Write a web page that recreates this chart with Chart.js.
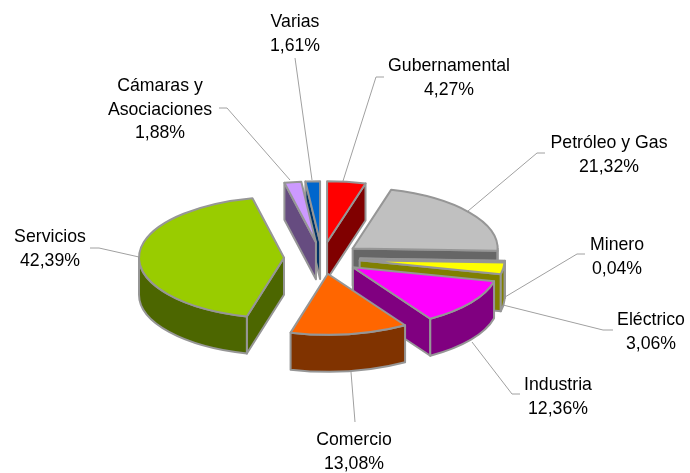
<!DOCTYPE html>
<html>
<head>
<meta charset="utf-8">
<style>
  html, body { margin: 0; padding: 0; background: #fff; }
  canvas { display: block; }
</style>
<script src="https://cdn.jsdelivr.net/npm/chart.js@4/dist/chart.umd.min.js"></script>
</head>
<body>
<canvas id="myChart" width="690" height="473"></canvas>
<script>
const categories = ["Gubernamental", "Petróleo y Gas", "Minero", "Eléctrico", "Industria", "Comercio", "Servicios", "Cámaras y Asociaciones", "Varias"];
const shares = [4.27, 21.32, 0.04, 3.06, 12.36, 13.08, 42.39, 1.88, 1.61];
const percentLabels = ["4,27%", "21,32%", "0,04%", "3,06%", "12,36%", "13,08%", "42,39%", "1,88%", "1,61%"];
const topColors = ["#ff0000", "#c0c0c0", "#ffff00", "#ffff00", "#ff00ff", "#ff6600", "#99cc00", "#cc99ff", "#0066cc"];
const sideColors = ["#800000", "#666666", "#808000", "#808000", "#800080", "#803300", "#4c6600", "#664c80", "#003366"];

// where the callouts sit: name lines, centre x, first baseline y, leader polyline
const callouts = [
  { name: ["Gubernamental"], x: 449, y: 71, leader: [[343, 181], [376, 77], [384, 77]] },
  { name: ["Petróleo y Gas"], x: 609, y: 148, leader: [[468, 211], [537, 153], [545, 153]] },
  { name: ["Minero"], x: 617, y: 250, leader: [[505, 297], [577, 254], [585, 254]] },
  { name: ["Eléctrico"], x: 651, y: 325, leader: [[503, 305], [603, 330], [613, 330]] },
  { name: ["Industria"], x: 558, y: 390, leader: [[472, 342], [512, 394], [520, 394]] },
  { name: ["Comercio"], x: 354, y: 445, leader: [[351, 372], [355, 422]] },
  { name: ["Servicios"], x: 50, y: 242, leader: [[139, 257], [99, 248], [90, 248]] },
  { name: ["Cámaras y", "Asociaciones"], x: 160, y: 91, leader: [[290, 180], [227, 108], [219, 108]] },
  { name: ["Varias"], x: 295, y: 27, leader: [[312, 180], [295, 58]] },
];

const squash = 0.42;    // vertical tilt of the pie
const depth = 37;       // wall height
const explode = 38;     // distance each slice is pulled out
const outline = "#969696";

const pie3d = {
  id: "pie3d",
  beforeDatasetsDraw(chart) {
    const ctx = chart.ctx;
    const arcs = chart.getDatasetMeta(0).data;
    const mid = (a) => (a.startAngle + a.endAngle) / 2;
    const order = arcs.map((a, i) => i).sort((p, q) => Math.sin(mid(arcs[p])) - Math.sin(mid(arcs[q])));

    // leaders go under the slices
    ctx.save();
    ctx.strokeStyle = "#a0a0a0";
    ctx.lineWidth = 1;
    callouts.forEach((c) => {
      ctx.beginPath();
      c.leader.forEach(([x, y], k) => (k ? ctx.lineTo(x, y) : ctx.moveTo(x, y)));
      ctx.stroke();
    });
    ctx.restore();

    order.forEach((i) => {
      const arc = arcs[i];
      const r = arc.outerRadius;
      const ax = arc.x + Math.cos(mid(arc)) * explode;
      const ay = arc.y + Math.sin(mid(arc)) * explode * squash;
      const rim = (t) => [ax + Math.cos(t) * r, ay + Math.sin(t) * r * squash];

      ctx.save();
      ctx.lineWidth = 2;
      ctx.lineJoin = "round";
      ctx.strokeStyle = outline;
      ctx.fillStyle = sideColors[i];

      // cut faces, only the ones turned towards the viewer
      const faces = [];
      if (Math.cos(arc.startAngle) < -1e-6) faces.push(rim(arc.startAngle));
      if (Math.cos(arc.endAngle) > 1e-6) faces.push(rim(arc.endAngle));
      faces.forEach(([px, py]) => {
        ctx.beginPath();
        ctx.moveTo(ax, ay);
        ctx.lineTo(px, py);
        ctx.lineTo(px, py + depth);
        ctx.lineTo(ax, ay + depth);
        ctx.closePath();
        ctx.fill();
        ctx.stroke();
      });

      // outer wall, front half only
      const from = Math.max(arc.startAngle, 0);
      const to = Math.min(arc.endAngle, Math.PI);
      if (from < to) {
        ctx.beginPath();
        ctx.ellipse(ax, ay, r, r * squash, 0, from, to);
        ctx.ellipse(ax, ay + depth, r, r * squash, 0, to, from, true);
        ctx.closePath();
        ctx.fill();
        ctx.stroke();
      }

      // top face: the library arc, tilted and moved out
      ctx.save();
      ctx.translate(ax, ay);
      ctx.scale(1, squash);
      ctx.translate(-arc.x, -arc.y);
      arc.draw(ctx);
      ctx.restore();

      ctx.beginPath();
      ctx.moveTo(ax, ay);
      ctx.ellipse(ax, ay, r, r * squash, 0, arc.startAngle, arc.endAngle);
      ctx.closePath();
      ctx.stroke();
      ctx.restore();
    });

    // callout text
    ctx.save();
    ctx.fillStyle = "#000";
    ctx.font = '17.7px "Liberation Sans", Arial, sans-serif';
    ctx.textAlign = "center";
    ctx.textBaseline = "alphabetic";
    callouts.forEach((c, i) => {
      [...c.name, percentLabels[i]].forEach((line, k) => ctx.fillText(line, c.x, c.y + k * 23.5));
    });
    ctx.restore();
    return false;
  },
};

new Chart(document.getElementById("myChart"), {
  type: "pie",
  data: {
    labels: categories,
    datasets: [{
      data: shares,
      backgroundColor: topColors,
      borderWidth: 0,
    }],
  },
  options: {
    responsive: false,
    animation: false,
    radius: 145,
    layout: { padding: { top: 43, right: 46 } },
    plugins: { legend: { display: false }, tooltip: { enabled: false } },
  },
  plugins: [pie3d],
});
</script>
</body>
</html>
